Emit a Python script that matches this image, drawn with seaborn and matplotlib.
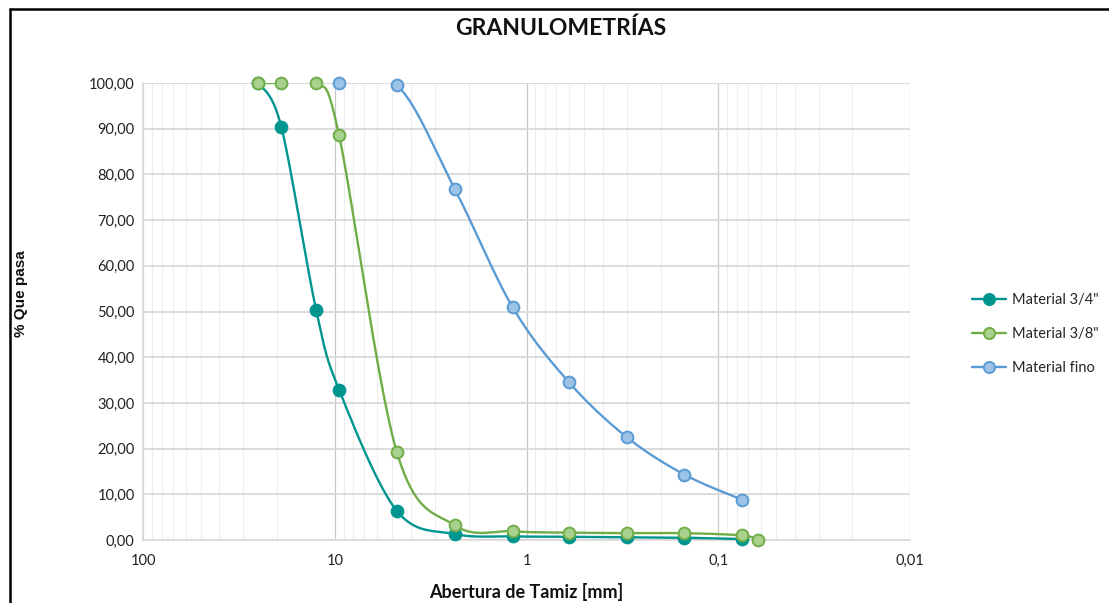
import numpy as np
import pandas as pd
import matplotlib
matplotlib.use("Agg")
import matplotlib.pyplot as plt
from matplotlib.lines import Line2D
from matplotlib.ticker import FixedLocator, FuncFormatter, NullFormatter
import seaborn as sns

# ---------------- data ----------------
sieve_34 = [25, 19, 12.5, 9.5, 4.75, 2.36, 1.18, 0.6, 0.3, 0.15, 0.075]
pass_34 = [100.0, 90.4, 50.3, 32.9, 6.4, 1.3, 0.8, 0.7, 0.6, 0.5, 0.2]

sieve_38 = [25, 19, 12.5, 9.5, 4.75, 2.36, 1.18, 0.6, 0.3, 0.15, 0.075, 0.062]
pass_38 = [100.0, 100.0, 100.0, 88.6, 19.3, 3.2, 1.9, 1.6, 1.5, 1.5, 1.0, 0.0]

sieve_fino = [9.5, 4.75, 2.36, 1.18, 0.6, 0.3, 0.15, 0.075]
pass_fino = [100.0, 99.6, 76.7, 50.9, 34.5, 22.5, 14.3, 8.8]

series_names = ['Material 3/4"', 'Material 3/8"', 'Material fino']
x_ticks = [100, 10, 1, 0.1, 0.01]
x_tick_labels = ["100", "10", "1", "0,1", "0,01"]
y_ticks = [0, 10, 20, 30, 40, 50, 60, 70, 80, 90, 100]

title = "GRANULOMETRÍAS"
xlabel = "Abertura de Tamiz [mm]"
ylabel = "% Que pasa"

# ---------------- styles ----------------
line_colors = ["#00958F", "#70AD47", "#5B9BD5"]
face_colors = ["#00958F", "#A9D18E", "#9DC3E6"]

sns.set_theme(style="white")
plt.rcParams["font.family"] = ["Lato", "DejaVu Sans"]


def smooth(xs, ys, n=40):
    """Excel-like smoothed line (Catmull-Rom Bezier) in log-x space."""
    u = np.log10(np.asarray(xs, float))
    v = np.asarray(ys, float)
    pts = np.column_stack([u, v])
    m = len(pts)
    out = []
    t = np.linspace(0, 1, n)[:, None]
    for i in range(m - 1):
        p0 = pts[max(i - 1, 0)]
        p1 = pts[i]
        p2 = pts[i + 1]
        p3 = pts[min(i + 2, m - 1)]
        c1 = p1 + (p2 - p0) / 6.0
        c2 = p2 - (p3 - p1) / 6.0
        seg = ((1 - t) ** 3) * p1 + 3 * ((1 - t) ** 2) * t * c1 + 3 * (1 - t) * t ** 2 * c2 + t ** 3 * p2
        out.append(seg if i == 0 else seg[1:])
    out = np.vstack(out)
    return 10 ** out[:, 0], out[:, 1]


fig = plt.figure(figsize=(11.09, 6.03), dpi=100)
ax = fig.add_axes([143 / 1109, 1 - 540 / 603, (910 - 143) / 1109, (540 - 83) / 603])

ax.set_xscale("log")
ax.set_xlim(100, 0.01)
ax.set_ylim(0, 100)

# grid
minor = [m * 10.0 ** e for e in range(-2, 2) for m in range(2, 10)]
ax.xaxis.set_minor_locator(FixedLocator(minor))
ax.xaxis.set_minor_formatter(NullFormatter())
ax.xaxis.set_major_locator(FixedLocator(x_ticks))
ax.xaxis.set_major_formatter(FuncFormatter(lambda v, p: x_tick_labels[x_ticks.index(min(x_ticks, key=lambda t: abs(np.log10(t) - np.log10(v))))]))
ax.yaxis.set_major_locator(FixedLocator(y_ticks))
ax.yaxis.set_major_formatter(FuncFormatter(lambda v, p: f"{v:.2f}".replace(".", ",")))
ax.grid(True, which="minor", axis="x", color="#EDEDED", lw=0.8)
ax.grid(True, which="major", axis="x", color="#C8C8C8", lw=0.9)
ax.grid(True, which="major", axis="y", color="#D9D9D9", lw=1.3)
ax.set_axisbelow(True)
for s in ["top", "right"]:
    ax.spines[s].set_visible(False)
ax.spines["left"].set_color("#D9D9D9")
ax.spines["bottom"].set_color("#D9D9D9")
ax.spines["left"].set_linewidth(1.2)
ax.spines["bottom"].set_linewidth(1.2)
ax.tick_params(axis="both", which="both", length=0, labelsize=10.5, colors="#222222", pad=6)
ax.tick_params(axis="x", pad=10)

all_series = [(sieve_34, pass_34), (sieve_38, pass_38), (sieve_fino, pass_fino)]
for k, (xs, ys) in enumerate(all_series):
    sx, sy = smooth(xs, ys)
    df_line = pd.DataFrame({"x": sx, "y": sy})
    sns.lineplot(data=df_line, x="x", y="y", ax=ax, sort=False, estimator=None,
                 color=line_colors[k], lw=1.7, zorder=3 + 2 * k)
    df_pts = pd.DataFrame({"x": xs, "y": ys})
    sns.scatterplot(data=df_pts, x="x", y="y", ax=ax, s=72,
                    color=face_colors[k], edgecolor=line_colors[k], linewidth=1.4,
                    zorder=4 + 2 * k, clip_on=False)

ax.set_xlabel(xlabel, fontsize=13, fontweight="bold", color="#111111")
ax.set_ylabel(ylabel, fontsize=11, fontweight="bold", color="#111111",
              family=["Liberation Sans", "DejaVu Sans"])
ax.yaxis.set_label_coords(-0.150, 0.54)
ax.xaxis.set_label_coords(0.5, -0.095)

fig.text(561 / 1109, 1 - 28 / 603, title, ha="center", va="center", fontsize=16.5,
         fontweight="bold", color="#111111")

handles = [Line2D([0], [0], color=line_colors[k], lw=1.7, marker="o", markersize=8,
                  markerfacecolor=face_colors[k], markeredgecolor=line_colors[k],
                  markeredgewidth=1.4) for k in range(3)]
fig.legend(handles, series_names, loc="center left", bbox_to_anchor=(972 / 1109, 1 - 334 / 603),
           frameon=False, fontsize=10.5, handlelength=2.3, handletextpad=0.45,
           labelspacing=1.35, borderpad=0, borderaxespad=0)

# outer frame lines (top and left)
fig.add_artist(Line2D([10 / 1109, 1], [1 - 9 / 603, 1 - 9 / 603], color="black", lw=1.8,
                      transform=fig.transFigure))
fig.add_artist(Line2D([10 / 1109, 10 / 1109], [0, 1 - 9 / 603], color="black", lw=1.8,
                      transform=fig.transFigure))

fig.savefig("out.png", dpi=100)
